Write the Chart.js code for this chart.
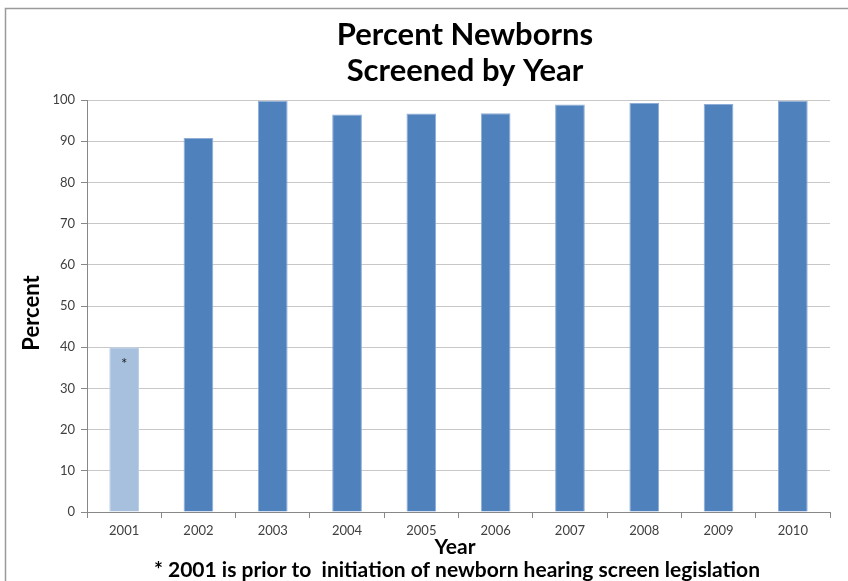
<!DOCTYPE html>
<html><head><meta charset="utf-8">
<script src="https://cdn.jsdelivr.net/npm/chart.js@4.4.0/dist/chart.umd.min.js"></script>
<style>html,body{margin:0;padding:0;background:#fff;}#wrap{width:848px;height:581px;position:relative;}</style>
</head><body><div id="wrap"><canvas id="c" width="848" height="581"></canvas></div>
<script>
const years = ['2001','2002','2003','2004','2005','2006','2007','2008','2009','2010'];
const percentScreened = [40, 90.8, 99.8, 96.5, 96.7, 96.8, 98.9, 99.3, 99.0, 99.8];
const yTicks = [0,10,20,30,40,50,60,70,80,90,100];
const titleLines = ['Percent Newborns', 'Screened by Year'];
const yTitle = 'Percent';
const xTitle = 'Year';
const footnote = '* 2001 is prior to  initiation of newborn hearing screen legislation';
const markedIndex = 0;

const FONT = 'Lato, "Open Sans", sans-serif';
const textPlugin = {
  id: 'texts',
  beforeDraw(chart) {
    const ctx = chart.ctx;
    ctx.save();
    ctx.strokeStyle = '#9a9a9a';
    ctx.lineWidth = 1.5;
    ctx.beginPath();
    ctx.moveTo(5.5, 600); ctx.lineTo(5.5, 8.5); ctx.lineTo(860, 8.5);
    ctx.stroke();
    ctx.restore();
  },
  afterDraw(chart) {
    const ctx = chart.ctx;
    ctx.save();
    ctx.fillStyle = '#000';
    ctx.textAlign = 'center';
    ctx.textBaseline = 'middle';
    ctx.font = 'bold 31px ' + FONT;
    ctx.fillText(titleLines[0], 465, 35);
    ctx.fillText(titleLines[1], 465, 71);
    ctx.font = 'bold 21px ' + FONT;
    ctx.fillText(xTitle, 455, 547);
    ctx.font = 'bold 21px ' + FONT;
    ctx.fillText(footnote, 457, 570);
    ctx.save();
    ctx.translate(32, 313);
    ctx.rotate(-Math.PI / 2);
    ctx.font = 'bold 22px ' + FONT;
    ctx.fillText(yTitle, 0, 0);
    ctx.restore();
    const bar = chart.getDatasetMeta(0).data[markedIndex];
    ctx.font = '15px ' + FONT;
    ctx.fillStyle = '#222';
    ctx.fillText('*', bar.x, bar.y + 17);
    ctx.restore();
  }
};

new Chart(document.getElementById('c'), {
  type: 'bar',
  data: {
    labels: years,
    datasets: [{
      data: percentScreened,
      backgroundColor: years.map((y, i) => i === markedIndex ? '#a7c0de' : '#4f81bd'),
      borderColor: years.map((y, i) => i === markedIndex ? '#bcd0e8' : '#8eaed8'),
      borderWidth: 1,
      barPercentage: 0.8,
      categoryPercentage: 0.5
    }]
  },
  options: {
    responsive: false,
    animation: false,
    devicePixelRatio: 1,
    layout: { padding: { top: 100, left: 0, right: 18, bottom: 38 } },
    plugins: { legend: { display: false }, tooltip: { enabled: false } },
    scales: {
      x: {
        offset: true,
        grid: { display: true, drawOnChartArea: false, offset: true, tickLength: 6, color: '#888' },
        border: { color: '#888' },
        ticks: { color: '#404040', font: { family: FONT, size: 13 }, padding: 5, maxRotation: 0 },
        afterFit(s) { s.height = 31; }
      },
      y: {
        min: 0, max: 100,
        afterBuildTicks(s) { s.ticks = yTicks.map(v => ({ value: v })); },
        grid: { color: '#c8c8c8', tickLength: 6, tickColor: '#888' },
        border: { color: '#888' },
        ticks: { color: '#404040', font: { family: FONT, size: 13 }, padding: 6 },
        afterFit(s) { s.width = 87; }
      }
    }
  },
  plugins: [textPlugin]
});
</script></body></html>
